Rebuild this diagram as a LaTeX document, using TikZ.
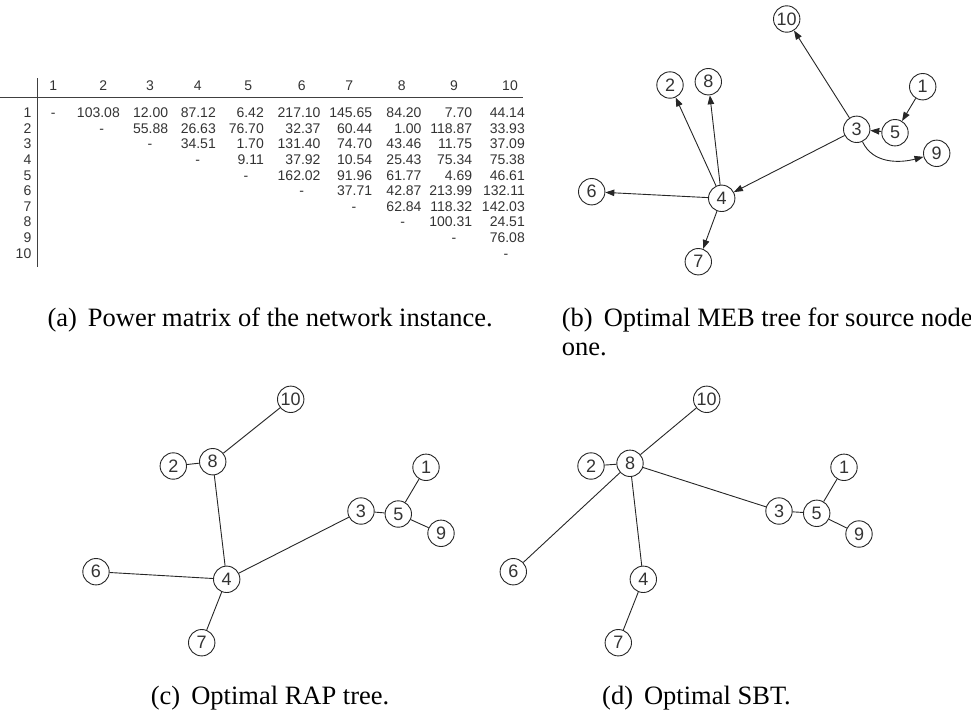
\documentclass[tikz,border=0pt]{standalone}
\usepackage{fontspec}
\setmainfont{Liberation Serif}
\newfontfamily\sansf{Liberation Sans}
\usetikzlibrary{arrows.meta}
\newcommand\tabfont{\sansf\fontsize{14}{16}\selectfont}
\newcommand\vfont{\sansf\fontsize{18}{20}\selectfont}
\newcommand\capfont{\fontsize{26.5}{29}\selectfont}
\tikzset{
  vert/.style={circle, draw=black!85, line width=0.9pt, minimum size=26.4pt, inner sep=0pt, font=\vfont, text=black!80},
  edge/.style={draw=black!85, line width=0.9pt},
  arr/.style={edge, -{Triangle[length=9pt,width=6.5pt]}},
  cell/.style={font=\tabfont, text=black!80, inner sep=0pt},
  captext/.style={font=\capfont, inner sep=0pt, anchor=base west, text=black},
  rulebar/.style={draw=black!75, line width=0.9pt}
}
\def\colR{{0,0,120,168.3,216,264,320.7,372.3,421.7,472.3,525}}
\def\colD{{0,53.3,101.7,150,197.7,246,301.7,354,402.7,454,506}}
\def\colH{{0,53.3,103.3,150,197.7,248.3,301.7,349.3,401.7,454,510}}
\begin{document}
\begin{tikzpicture}[x=1pt,y=1pt]
\useasboundingbox (0,0) rectangle (971,-713);
% ---------- (a) power matrix ----------
\draw[rulebar] (0,-97.7) -- (523,-97.7);
\draw[rulebar] (37.7,-78.3) -- (37.7,-266.7);
\foreach \c in {1,...,10} {
  \pgfmathsetmacro\xh{\colH[\c]}
  \node[cell, anchor=base] (h\c) at (\xh,-90.7) {\c};
}
\foreach \r/\vals in {
  1/{103.08,12.00,87.12,6.42,217.10,145.65,84.20,7.70,44.14},
  2/{55.88,26.63,76.70,32.37,60.44,1.00,118.87,33.93},
  3/{34.51,1.70,131.40,74.70,43.46,11.75,37.09},
  4/{9.11,37.92,10.54,25.43,75.34,75.38},
  5/{162.02,91.96,61.77,4.69,46.61},
  6/{37.71,42.87,213.99,132.11},
  7/{62.84,118.32,142.03},
  8/{100.31,24.51},
  9/{76.08}} {
  \pgfmathsetmacro\yb{-(117.7+15.6*(\r-1))}
  \node[cell, anchor=base east] (rl\r) at (31.5,\yb) {\r};
  \pgfmathsetmacro\xd{\colD[\r]}
  \node[cell, anchor=base] (dash\r) at (\xd,\yb) {-};
  \foreach \v [count=\k] in \vals {
    \pgfmathtruncatemacro\cc{\r+\k}
    \pgfmathsetmacro\xr{\colR[\cc]}
    \node[cell, anchor=base east] (m\r-\cc) at (\xr,\yb) {\v};
  }
}
\node[cell, anchor=base east] (rl10) at (31.5,-258.1) {10};
\node[cell, anchor=base] (dash10) at (506,-258.1) {-};
\node[captext] (capa) at (47.3,-326) {(a)\hspace{11pt}Power matrix of the network instance.};
% ---------- (b) MEB tree ----------
\node[vert] (b10) at (786.7,-19) {10};
\node[vert] (b2) at (670,-85) {2};
\node[vert] (b8) at (708.3,-81.7) {8};
\node[vert] (b1) at (922.7,-86.7) {1};
\node[vert] (b3) at (856.7,-129.3) {3};
\node[vert] (b5) at (895,-132.7) {5};
\node[vert] (b9) at (936.7,-153.3) {9};
\node[vert] (b6) at (591.7,-191.7) {6};
\node[vert] (b4) at (721.7,-198.3) {4};
\node[vert] (b7) at (698.3,-261.7) {7};
\draw[arr] (b3) -- (b10);
\draw[arr] (b3) -- (b4);
\draw[arr] (b5) -- (b3);
\draw[arr] (b1) -- (b5);
\draw[arr] (b3) to[out=-65, in=195] (b9);
\draw[arr] (b4) -- (b2);
\draw[arr] (b4) -- (b8);
\draw[arr] (b4) -- (b6);
\draw[arr] (b4) -- (b7);
\node[captext] (capb) at (561.7,-326) {(b)\hspace{11pt}Optimal MEB tree for source node};
\node[captext] (capb2) at (561.7,-355) {one.};
% ---------- (c) RAP tree ----------
\node[vert] (c10) at (290.7,-399.3) {10};
\node[vert] (c2) at (173.3,-466) {2};
\node[vert] (c8) at (212.7,-461.7) {8};
\node[vert] (c1) at (426,-467.3) {1};
\node[vert] (c3) at (361,-511) {3};
\node[vert] (c5) at (398.3,-514) {5};
\node[vert] (c9) at (441,-533.3) {9};
\node[vert] (c6) at (96,-571.7) {6};
\node[vert] (c4) at (226.7,-579.3) {4};
\node[vert] (c7) at (201.7,-642.7) {7};
\draw[edge] (c10) -- (c8);
\draw[edge] (c2) -- (c8);
\draw[edge] (c8) -- (c4);
\draw[edge] (c4) -- (c3);
\draw[edge] (c4) -- (c6);
\draw[edge] (c4) -- (c7);
\draw[edge] (c3) -- (c5);
\draw[edge] (c5) -- (c1);
\draw[edge] (c5) -- (c9);
\node[captext] (capc) at (150.7,-704) {(c)\hspace{11pt}Optimal RAP tree.};
% ---------- (d) SBT ----------
\node[vert] (s10) at (706.7,-399.3) {10};
\node[vert] (s2) at (591,-466) {2};
\node[vert] (s8) at (630,-463.3) {8};
\node[vert] (s1) at (844,-467.3) {1};
\node[vert] (s3) at (779,-511) {3};
\node[vert] (s5) at (816.7,-513.3) {5};
\node[vert] (s9) at (859,-534) {9};
\node[vert] (s6) at (513.3,-571.7) {6};
\node[vert] (s4) at (643.3,-579.3) {4};
\node[vert] (s7) at (618.3,-642.7) {7};
\draw[edge] (s10) -- (s8);
\draw[edge] (s2) -- (s8);
\draw[edge] (s8) -- (s6);
\draw[edge] (s8) -- (s4);
\draw[edge] (s8) -- (s3);
\draw[edge] (s4) -- (s7);
\draw[edge] (s3) -- (s5);
\draw[edge] (s5) -- (s1);
\draw[edge] (s5) -- (s9);
\node[captext] (capd) at (602,-704) {(d)\hspace{11pt}Optimal SBT.};
\end{tikzpicture}
\end{document}
